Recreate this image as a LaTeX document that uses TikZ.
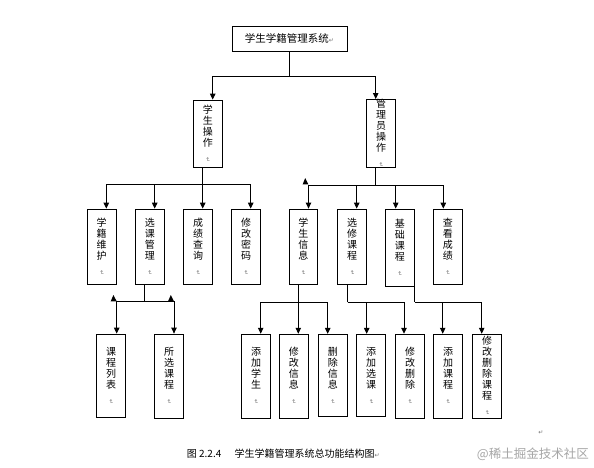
\documentclass[tikz,border=0pt]{standalone}
\usepackage{fontspec}
\usepackage{graphicx}
\setmainfont{Liberation Sans}
\newfontfamily\cjk{Noto Sans CJK SC}
\newfontfamily\symf{DejaVu Sans}
\usetikzlibrary{arrows.meta}
\newcommand{\pmkv}{{\symf\fontsize{6}{7}\selectfont\color{black!55}\rotatebox{-90}{↵}}}
\newcommand{\pmkh}{{\symf\fontsize{6}{7}\selectfont\color{black!55}↵}}
\tikzset{
  cbox/.style={draw, line width=0.9pt, inner sep=0pt, align=center,
               font=\cjk\fontsize{10}{11}\selectfont},
  arr/.style={line width=0.9pt, -{Triangle[length=6pt,width=5.5pt]}},
  ln/.style={line width=0.9pt},
  capt/.style={inner sep=0pt, anchor=base west, font=\cjk\fontsize{10}{12}\selectfont}
}
\begin{document}
\begin{tikzpicture}[x=1pt,y=-1pt]
\useasboundingbox[fill=white] (0,0) rectangle (594,467);

% root
\node[cbox, minimum width=115pt, minimum height=25pt, font=\cjk\fontsize{10.5}{12}\selectfont] (root) at (289.5,38.5) {学生学籍管理系统\pmkh};

% level 1
\node[cbox, minimum width=29pt, minimum height=67.3pt] (stu) at (207.8,133.7) {学\\生\\操\\作\\\pmkv};
\node[cbox, minimum width=29.4pt, minimum height=67.3pt] (adm) at (381,133.7) {管\\理\\员\\操\\作\\\pmkv};

% level 2
\node[cbox, minimum width=28.7pt, minimum height=75.3pt] (a1) at (101.7,246.7) {学\\籍\\维\\护\\\pmkv};
\node[cbox, minimum width=29pt, minimum height=75.3pt] (a2) at (149.8,246.7) {选\\课\\管\\理\\\pmkv};
\node[cbox, minimum width=29.4pt, minimum height=75.3pt] (a3) at (198,246.7) {成\\绩\\查\\询\\\pmkv};
\node[cbox, minimum width=28.6pt, minimum height=75.3pt] (a4) at (246,246.7) {修\\改\\密\\码\\\pmkv};
\node[cbox, minimum width=28pt, minimum height=75.3pt] (b1) at (303.3,246.7) {学\\生\\信\\息\\\pmkv};
\node[cbox, minimum width=29pt, minimum height=75.3pt] (b2) at (352.2,246.7) {选\\修\\课\\程\\\pmkv};
\node[cbox, minimum width=29pt, minimum height=77pt] (b3) at (399.8,247.5) {基\\础\\课\\程\\\pmkv};
\node[cbox, minimum width=29pt, minimum height=75.3pt] (b4) at (447.8,246.7) {查\\看\\成\\绩\\\pmkv};

% level 3
\node[cbox, minimum width=28.6pt, minimum height=83.3pt] (c1) at (111,375.7) {课\\程\\列\\表\\\pmkv};
\node[cbox, minimum width=28.6pt, minimum height=84.3pt] (c2) at (169,376.2) {所\\选\\课\\程\\\pmkv};
\node[cbox, minimum width=28.6pt, minimum height=84pt] (d1) at (256,376.2) {添\\加\\学\\生\\\pmkv};
\node[cbox, minimum width=29pt, minimum height=84pt] (d2) at (293.8,376.2) {修\\改\\信\\息\\\pmkv};
\node[cbox, minimum width=29pt, minimum height=82.4pt] (d3) at (332.8,375.5) {删\\除\\信\\息\\\pmkv};
\node[cbox, minimum width=29pt, minimum height=82.4pt] (d4) at (371.2,375.5) {添\\加\\选\\课\\\pmkv};
\node[cbox, minimum width=28.6pt, minimum height=84pt] (d5) at (410,376.2) {修\\改\\删\\除\\\pmkv};
\node[cbox, minimum width=28.6pt, minimum height=84pt] (d6) at (448,376.2) {添\\加\\课\\程\\\pmkv};
\node[cbox, minimum width=29pt, minimum height=84pt] (d7) at (487.2,376.2) {修\\改\\删\\除\\课\\程\\\pmkv};

% connectors root -> level 1
\draw[ln] (root.south) -- ++(0,24.5) coordinate (rj);
\draw[arr] (rj) -| ([xshift=4.9pt]stu.north);
\draw[arr] (rj) -| ([xshift=-5.3pt]adm.north);

% stu -> a
\draw[ln] ([xshift=-5.1pt]stu.south) -- ++(0,17) coordinate (sj);
\draw[arr] (sj) -| ([xshift=4.6pt]a1.north);
\draw[arr] (sj) -| ([xshift=4.9pt]a2.north);
\draw[arr] (sj) -| ([xshift=4.7pt]a3.north);
\draw[arr] (sj) -| ([xshift=4.7pt]a4.north);

% adm -> b
\draw[ln] ([xshift=-5.3pt]adm.south) -- ++(0,17) coordinate (mj);
\draw[arr] (mj) -| ([xshift=5.2pt]b1.north);
\draw[arr] (mj) -| ([xshift=4.5pt]b2.north);
\draw[arr] (mj) -| ([xshift=-4.1pt]b3.north);
\draw[arr] (mj) -| ([xshift=-4.5pt]b4.north);

% a2 -> c
\draw[ln] ([xshift=-5.8pt]a2.south) -- ++(0,17) coordinate (cj);
\draw[arr] (cj) -| ([xshift=5.7pt]c1.north);
\draw[arr] (cj) -| ([xshift=5pt]c2.north);

% b1 -> d1..d3
\draw[ln] ([xshift=-5pt]b1.south) -- ++(0,17.2) coordinate (dj1);
\draw[arr] (dj1) -| ([xshift=4.7pt]d1.north);
\draw[arr] (dj1) -| ([xshift=4.5pt]d2.north);
\draw[arr] (dj1) -| ([xshift=-5.1pt]d3.north);

% b2 -> d4,d5
\draw[ln] ([xshift=-4.7pt]b2.south) -- ++(0,17.2) coordinate (dj2);
\draw[arr] (dj2) -| ([xshift=-4.5pt]d4.north);
\draw[arr] (dj2) -| ([xshift=-6pt]d5.north);

% b3 -> d6,d7
\draw[ln] (b3.south east) -- ++(0,15.5) coordinate (dj3);
\draw[arr] (dj3) -| ([xshift=-5.3pt]d6.north);
\draw[arr] (dj3) -| ([xshift=-5.5pt]d7.north);

% stray arrowheads as printed
\fill (302.7,184.3) -- (308.3,184.3) -- (305.2,178) -- cycle;
\fill (110.7,301.3) -- (116.7,301.3) -- (113.4,295) -- cycle;
\fill (168,301.3) -- (174,301.3) -- (170.8,295) -- cycle;

% caption
\node[capt] (cap1) at (186.7,457) {图 2.2.4};
\node[capt] (cap2) at (234.5,457) {学生学籍管理系统总功能结构图\pmkh};
\node[inner sep=0pt] (mk) at (541,433) {\pmkh};
\node[inner sep=0pt, anchor=base east, text=black!35, font=\cjk\fontsize{12.5}{14}\selectfont] (wm) at (589,458) {@稀土掘金技术社区};
\end{tikzpicture}
\end{document}
